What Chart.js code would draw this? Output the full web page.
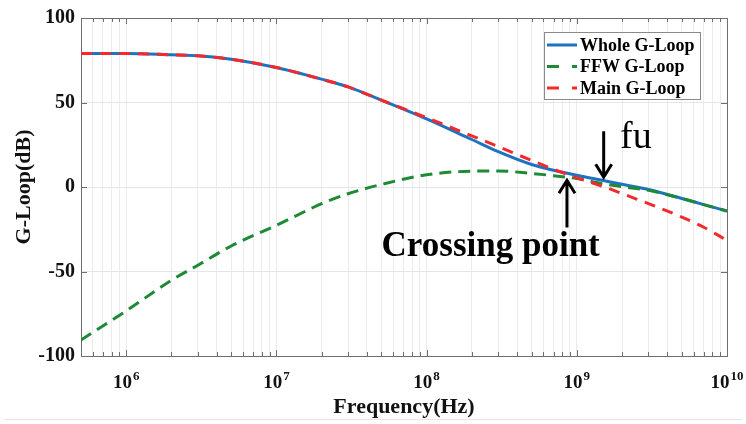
<!DOCTYPE html>
<html>
<head>
<meta charset="utf-8">
<script src="https://cdn.jsdelivr.net/npm/chart.js@4.4.1/dist/chart.umd.min.js"></script>
<style>
  html, body { margin: 0; padding: 0; background: #fff; }
  #wrap { width: 746px; height: 424px; }
</style>
</head>
<body>
<div id="wrap"><canvas id="loopChart" width="746" height="424"></canvas></div>
<script>
const serif = '"Liberation Serif", "Times New Roman", serif';

// frequency points (Hz) and loop gains (dB)
const freq      = [5e5, 1e6, 2e6, 3e6, 5e6, 1e7, 2e7, 3e7, 5e7, 1e8, 2e8, 3e8, 5e8, 7e8, 1e9, 1.5e9, 2e9, 3e9, 5e9, 7e9, 1e10];
const wholeLoop = [79, 79, 78.2, 77.6, 75.6, 70.7, 63.8, 59.2, 51.4, 40.3, 28.1, 20.9, 13.3, 9.9, 6.9, 3.8, 1.6, -1.5, -6.8, -10.4, -14.2];
const ffwLoop   = [-90.5, -73.3, -55.2, -46.3, -34.9, -22.7, -9.9, -4.0, 1.5, 7.2, 9.4, 9.5, 8.0, 6.7, 5.0, 1.9, 0.2, -2.0, -6.8, -10.4, -14.2];
const mainLoop  = [79, 79, 78.2, 77.6, 75.6, 70.7, 63.8, 59.2, 51.4, 41.0, 30.3, 23.9, 15.7, 10.5, 5.4, 0.3, -3.9, -9.8, -17.8, -23.8, -31.6];

const seriesNames = ['Whole G-Loop', 'FFW G-Loop', 'Main G-Loop'];
const xMin = 5e5, xMax = 1e10;
const yTicks = [-100, -50, 0, 50, 100];

// annotation anchors in data units
const fuArrow = { f: 1.51e9, from: 33, to: 5.8 };
const crossArrow = { f: 8.6e8, from: -24, to: 4 };
const fuLabel = { f: 1.94e9, v: 23, text: 'fu' };
const crossLabel = { f: 2.67e8, v: -41, text: 'Crossing point' };

const toXY = (vals) => vals.map((v, i) => ({ x: freq[i], y: v }));

function arrow(ctx, x, y0, y1) {
  const dir = y1 > y0 ? 1 : -1;
  ctx.beginPath();
  ctx.moveTo(x, y0);
  ctx.lineTo(x, y1);
  ctx.moveTo(x - 8, y1 - dir * 13);
  ctx.lineTo(x, y1);
  ctx.lineTo(x + 8, y1 - dir * 13);
  ctx.stroke();
}

const decorPlugin = {
  id: 'decor',
  beforeDatasetsDraw(chart) {
    const { ctx, chartArea: a, scales } = chart;
    ctx.save();
    ctx.strokeStyle = '#6e6e6e';
    ctx.lineWidth = 1;
    // inner tick marks, MATLAB style
    ctx.beginPath();
    scales.x.ticks.forEach(t => {
      const x = Math.round(scales.x.getPixelForValue(t.value)) + 0.5;
      const len = t.major ? 6 : 4;
      ctx.moveTo(x, a.bottom); ctx.lineTo(x, a.bottom - len);
      ctx.moveTo(x, a.top); ctx.lineTo(x, a.top + len);
    });
    yTicks.forEach(v => {
      const y = Math.round(scales.y.getPixelForValue(v)) + 0.5;
      ctx.moveTo(a.left, y); ctx.lineTo(a.left + 6, y);
      ctx.moveTo(a.right, y); ctx.lineTo(a.right - 6, y);
    });
    ctx.stroke();
    ctx.strokeRect(Math.round(a.left) + 0.5, Math.round(a.top) + 0.5,
      Math.round(a.right - a.left), Math.round(a.bottom - a.top));
    ctx.restore();
  },
  afterDraw(chart) {
    const { ctx, chartArea: a, scales } = chart;
    const sx = scales.x, sy = scales.y;
    ctx.save();

    // x tick labels as 10 with a raised exponent
    ctx.fillStyle = '#111';
    ctx.textBaseline = 'alphabetic';
    ctx.textAlign = 'left';
    sx.ticks.filter(t => t.major).forEach(t => {
      const e = String(Math.round(Math.log10(t.value)));
      ctx.font = 'bold 19px ' + serif;
      const wBase = ctx.measureText('10').width;
      ctx.font = 'bold 13px ' + serif;
      const wExp = ctx.measureText(e).width;
      const x0 = sx.getPixelForValue(t.value) - (wBase + wExp + 1) / 2;
      ctx.font = 'bold 19px ' + serif;
      ctx.fillText('10', x0, a.bottom + 32);
      ctx.font = 'bold 13px ' + serif;
      ctx.fillText(e, x0 + wBase + 1, a.bottom + 24);
    });

    // arrows
    ctx.strokeStyle = '#000';
    ctx.lineWidth = 3;
    arrow(ctx, sx.getPixelForValue(fuArrow.f), sy.getPixelForValue(fuArrow.from), sy.getPixelForValue(fuArrow.to));
    arrow(ctx, sx.getPixelForValue(crossArrow.f), sy.getPixelForValue(crossArrow.from), sy.getPixelForValue(crossArrow.to));

    // annotation texts
    ctx.fillStyle = '#000';
    ctx.font = '38px ' + serif;
    ctx.textAlign = 'left';
    ctx.fillText(fuLabel.text, sx.getPixelForValue(fuLabel.f), sy.getPixelForValue(fuLabel.v));
    ctx.font = 'bold 35px ' + serif;
    ctx.textAlign = 'center';
    ctx.fillText(crossLabel.text, sx.getPixelForValue(crossLabel.f), sy.getPixelForValue(crossLabel.v));

    // legend box in the top right corner
    const bw = 156, bh = 67;
    const bx = a.right - 27 - bw, by = a.top + 14;
    ctx.fillStyle = '#fff';
    ctx.fillRect(bx, by, bw, bh);
    ctx.strokeStyle = '#8a8a8a';
    ctx.lineWidth = 1;
    ctx.strokeRect(bx + 0.5, by + 0.5, bw, bh);
    ctx.font = 'bold 18px ' + serif;
    ctx.textAlign = 'left';
    ctx.textBaseline = 'middle';
    chart.data.datasets.forEach((ds, i) => {
      const y = by + 13 + i * 21.5;
      ctx.strokeStyle = ds.borderColor;
      ctx.lineWidth = 3;
      ctx.setLineDash(ds.borderDash.length ? [12, 13] : []);
      ctx.beginPath();
      ctx.moveTo(bx + 3, y);
      ctx.lineTo(bx + 33, y);
      ctx.stroke();
      ctx.setLineDash([]);
      ctx.fillStyle = '#000';
      ctx.fillText(ds.label, bx + 36, y + 1);
    });

    // faint separator under the figure
    ctx.strokeStyle = '#e6e6e6';
    ctx.lineWidth = 1;
    ctx.beginPath();
    ctx.moveTo(4, chart.height - 4.5);
    ctx.lineTo(chart.width - 4, chart.height - 4.5);
    ctx.stroke();
    ctx.restore();
  }
};

new Chart(document.getElementById('loopChart'), {
  type: 'line',
  data: {
    datasets: [
      {
        label: seriesNames[0],
        data: toXY(wholeLoop),
        borderColor: '#1f72c0',
        borderWidth: 3,
        borderDash: [],
        order: 3
      },
      {
        label: seriesNames[1],
        data: toXY(ffwLoop),
        borderColor: '#1e8a35',
        borderWidth: 3,
        borderDash: [12, 7],
        order: 2
      },
      {
        label: seriesNames[2],
        data: toXY(mainLoop),
        borderColor: '#f5282b',
        borderWidth: 3,
        borderDash: [11, 8],
        order: 1
      }
    ]
  },
  options: {
    responsive: false,
    animation: false,
    layout: { padding: { left: 0, top: 17, right: 19, bottom: 0 } },
    elements: {
      point: { radius: 0 },
      line: { cubicInterpolationMode: 'monotone', fill: false }
    },
    plugins: {
      legend: { display: false },
      tooltip: { enabled: false }
    },
    scales: {
      x: {
        type: 'logarithmic',
        min: xMin,
        max: xMax,
        afterBuildTicks: (scale) => {
          const ticks = [];
          for (let e = 5; e <= 10; e++) {
            for (let m = 1; m <= 9; m++) {
              const v = m * Math.pow(10, e);
              if (v >= xMin && v <= xMax) ticks.push({ value: v, major: m === 1 });
            }
          }
          scale.ticks = ticks;
        },
        afterFit: (scale) => { scale.height = 68; },
        ticks: { display: false },
        grid: { color: '#ececec', drawTicks: false },
        border: { display: false },
        title: {
          display: true,
          text: 'Frequency(Hz)',
          color: '#111',
          font: { family: serif, size: 22, weight: 'bold' },
          padding: { top: 0, bottom: 3 }
        }
      },
      y: {
        min: -100,
        max: 100,
        afterBuildTicks: (scale) => { scale.ticks = yTicks.map(v => ({ value: v })); },
        afterFit: (scale) => { scale.width = 81; },
        ticks: {
          color: '#111',
          padding: 6,
          font: { family: serif, size: 20, weight: 'bold' }
        },
        grid: { color: '#e6e6e6', drawTicks: false },
        border: { display: false },
        title: {
          display: true,
          text: 'G-Loop(dB)',
          color: '#111',
          font: { family: serif, size: 22, weight: 'bold' },
          padding: { top: 11, bottom: 0 }
        }
      }
    }
  },
  plugins: [decorPlugin]
});
</script>
</body>
</html>
